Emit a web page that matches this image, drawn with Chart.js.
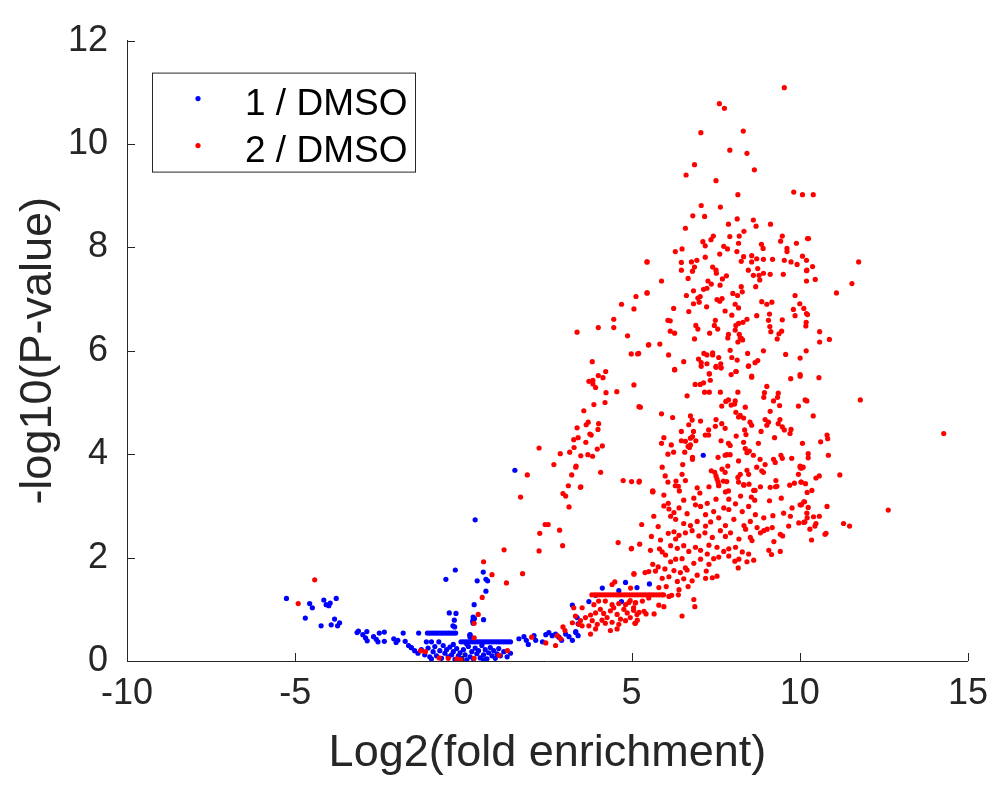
<!DOCTYPE html>
<html>
<head>
<meta charset="utf-8">
<title>Log2 fold enrichment volcano plot</title>
<script src="https://cdn.jsdelivr.net/npm/chart.js@4.4.1/dist/chart.umd.min.js"></script>
<style>
  html, body { margin: 0; padding: 0; background: #fff; }
  #wrap { width: 999px; height: 785px; position: relative; }
</style>
</head>
<body>
<div id="wrap"><canvas id="volcano"></canvas></div>
<script>
// tick labels
const xTicks = [-10, -5, 0, 5, 10, 15];
const yTicks = [0, 2, 4, 6, 8, 10, 12];
const seriesNames = ['1 / DMSO', '2 / DMSO'];

// --- 1 / DMSO (blue), points are [log2 fold enrichment, -log10 P] ---
const blueLeft = [
  [-5.26,1.21],[-4.57,1.11],[-4.49,1.03],[-4.15,1.18],[-4.08,1.09],[-3.96,1.12],[-4.0,1.07],[-3.78,1.21],
  [-4.70,0.83],[-4.23,0.68],[-3.93,0.70],[-3.83,0.81],[-3.68,0.74],[-3.74,0.68],[-3.12,0.58],[-3.16,0.55],
  [-2.99,0.51],[-2.87,0.57],[-2.91,0.45],[-2.86,0.39],[-2.67,0.47],[-2.59,0.42],[-2.50,0.54],[-2.35,0.56],
  [-2.54,0.37],[-2.35,0.38],[-2.07,0.43],[-2.0,0.36],[-1.95,0.40],[-1.79,0.54],[-1.73,0.38],[-1.63,0.30],
  [-1.55,0.26],[-1.33,0.54],[-1.10,0.37],[-0.95,0.37],[-0.73,0.37]
];
const blueStreaks = [
  [-1.07,0.54],[-1.0,0.54],[-0.93,0.54],[-0.86,0.54],[-0.79,0.54],[-0.72,0.54],[-0.65,0.54],[-0.58,0.54],
  [-0.51,0.54],[-0.44,0.54],[-0.37,0.54],[-0.30,0.54],[-0.23,0.54],
  [-0.07,0.37],[0.0,0.37],[0.07,0.37],[0.14,0.37],[0.21,0.37],[0.28,0.37],[0.35,0.37],[0.42,0.37],
  [0.49,0.37],[0.56,0.37],[0.63,0.37],[0.70,0.37],[0.77,0.37],[0.84,0.37],[0.91,0.37],[0.98,0.37],
  [1.05,0.37],[1.12,0.37],[1.19,0.37],[1.26,0.37],[1.33,0.37],[1.40,0.37]
];
const blueCore = [
  [-1.55,0.26],[-1.45,0.20],[-1.35,0.15],[-1.25,0.22],[-1.15,0.12],[-1.05,0.25],[-1.0,0.08],[-0.9,0.18],
  [-0.85,0.28],[-0.8,0.10],[-0.7,0.20],[-0.65,0.05],[-0.6,0.30],[-0.55,0.15],[-0.5,0.22],[-0.45,0.08],
  [-0.4,0.27],[-0.35,0.12],[-0.3,0.18],[-0.25,0.03],[-0.2,0.24],[-0.15,0.10],[-0.1,0.16],[-0.05,0.05],
  [0.0,0.22],[0.05,0.12],[0.1,0.02],[0.15,0.28],[0.2,0.08],[0.25,0.18],[0.3,0.04],[0.35,0.25],
  [0.4,0.14],[0.45,0.20],[0.5,0.06],[0.55,0.30],[0.6,0.12],[0.65,0.22],[0.7,0.04],[0.75,0.16],
  [0.8,0.26],[0.85,0.10],[0.9,0.20],[0.95,0.05],[1.0,0.14],[1.05,0.24],[1.1,0.10],[1.2,0.18],
  [1.3,0.08],[1.4,0.15],[-0.95,0.04],[-0.3,0.32],[0.1,0.33],[0.6,0.02],
  [-0.24,1.76],[-0.52,1.58],[0.41,1.55],[0.32,1.09],[-0.42,0.93],[-0.22,0.92],[-0.27,0.79],[-0.31,0.68],
  [-0.26,0.66],[0.33,0.82],[0.28,0.77],[0.20,0.51],[0.20,0.46],[1.53,3.69],[0.35,2.73],[0.59,1.72],
  [0.67,1.58],[0.72,1.55],[0.67,1.35],[0.29,0.85],[0.29,0.79],[0.60,0.80],[0.29,0.73],[0.19,0.50]
];
const blueRight = [
  [1.65,0.43],[1.80,0.47],[1.87,0.40],[1.93,0.32],[2.10,0.49],[2.15,0.40],[2.35,0.37],[2.45,0.51],
  [2.54,0.55],[2.64,0.49],[2.74,0.52],[2.84,0.46],[2.92,0.40],[3.04,0.52],[3.14,0.47],[3.24,0.40],
  [3.34,0.57],[3.41,0.49],[3.24,1.08],[3.38,0.84],[3.41,0.72],[3.34,0.55],[4.13,1.41],[3.93,1.27],
  [3.73,1.15],[4.62,1.36],[4.82,1.52],[5.16,1.42],[4.70,1.15],[5.53,1.49],[7.13,3.98]
];

// --- 2 / DMSO (red) ---
const redLow = [
  [-4.42,1.57],[-4.91,1.11],[-1.27,0.20],[-1.13,0.18],[-0.72,0.06],[-0.45,0.05],[-0.19,0.04],[-0.07,0.02],
  [0.32,0.05],[1.06,0.11],[1.31,0.20],[0.32,0.73],[0.44,0.90],[0.32,0.45],[0.56,1.23],[0.60,1.92],
  [0.85,1.67],[1.28,1.51],[1.76,1.69],[1.21,2.15],
  [2.03,0.46],[2.45,0.35],[2.74,0.30],[2.79,0.49],[2.89,0.43],[2.96,0.66],[3.02,0.59],[3.24,0.74],[3.43,0.71],
  [2.25,2.13],[2.95,2.23],[2.27,2.47],[2.43,2.64],[2.52,2.64],[2.86,2.53],[4.60,2.29],[4.99,2.17],
  [5.07,1.68],[4.50,1.53],[4.42,1.48],[1.90,3.60],[1.70,3.17],[2.69,3.80],[3.34,3.75],[3.22,3.60],
  [3.12,3.39],[2.96,3.24],[3.04,3.19],[3.14,2.98],[3.48,3.36],[4.08,3.65],[4.75,3.49],[5.00,3.47]
];
const redStreak = [
  [3.82,1.28],[3.90,1.28],[3.98,1.28],[4.06,1.28],[4.14,1.28],[4.22,1.28],[4.30,1.28],[4.38,1.28],
  [4.46,1.28],[4.54,1.28],[4.62,1.28],[4.70,1.28],[4.78,1.28],[4.86,1.28],[4.94,1.28],[5.02,1.28],
  [5.10,1.28],[5.18,1.28],[5.26,1.28],[5.34,1.28],[5.42,1.28],[5.50,1.28],[5.58,1.28],[5.66,1.28],
  [5.74,1.28],[5.82,1.28],[5.90,1.28],[5.95,1.28]
];
const redShoulder = [
  [3.28,1.03],[3.53,1.03],[3.33,0.87],[3.48,0.78],[3.63,0.84],[3.78,0.89],[3.93,0.93],[4.07,1.00],
  [4.17,0.92],[4.27,0.84],[4.37,0.97],[4.47,1.03],[4.57,0.90],[4.67,0.81],[4.77,1.00],[4.87,0.93],
  [4.96,0.84],[5.06,1.03],[5.16,0.90],[3.83,0.78],[3.98,0.71],[4.12,0.79],[4.22,0.73],[4.42,0.75],
  [4.62,0.71],[4.82,0.78],[3.73,0.68],[3.53,0.68],[3.88,1.09],[4.02,1.16],[4.22,1.16],[4.42,1.09],
  [4.62,1.11],[4.82,1.09],[4.96,1.17],[5.11,1.12],[3.93,0.62],[4.37,0.59],[4.57,0.62],[3.78,0.52],
  [5.11,0.73],[4.92,1.13],[5.12,1.13],[5.32,1.16],[5.51,1.22],[5.81,1.08],[5.96,1.05],[5.06,0.98],
  [5.22,0.94],[5.37,0.96],[5.43,0.91],[5.67,0.91],[5.10,0.73],[5.17,0.79],[6.11,1.25],[6.39,1.28],
  [6.85,1.19],[6.88,1.05],[6.50,0.87],[5.81,1.42],[6.03,1.44],[6.41,1.38],[6.19,1.27],[6.68,1.44],[4.97,1.41]
];
const redArm = [
  [5.07,6.81],[4.47,6.61],[4.01,6.45],[4.47,6.45],[3.38,6.36],[4.88,6.29],[5.50,6.11],[4.99,5.94],
  [5.18,5.94],[3.83,5.79],[4.23,5.60],[4.01,5.52],[4.15,5.48],[3.73,5.41],[3.85,5.43],[3.85,5.36],
  [3.93,5.29],[4.24,5.19],[4.56,5.21],[5.07,5.34],[4.21,5.00],[3.88,4.96],[5.22,4.92],[3.58,4.84],
  [3.71,4.62],[3.65,4.57],[4.02,4.59],[3.38,4.51],[4.00,4.48],[3.76,4.39],[3.80,4.37],[3.28,4.28],
  [3.41,4.32],[3.64,4.23],[2.25,4.12],[2.88,4.01],[3.16,4.04],[3.29,4.13],[3.98,4.10],[4.13,4.16],
  [3.49,3.97],[3.70,3.99],[3.84,3.96],[3.35,3.77],[3.49,3.37],[5.22,3.46],[5.63,3.27],
  [5.46,7.72],[5.46,7.12],[5.13,7.05],[4.70,6.90]
];
const redDense = [
  [5.63,3.28],[5.96,3.21],[6.39,3.38],[6.95,3.35],[7.03,3.25],[7.30,3.37],[7.59,3.40],[7.79,3.27],
  [8.34,3.40],[8.63,3.30],[8.83,3.37],[9.28,3.37],[9.70,3.40],[10.17,3.43],
  [6.09,3.05],[6.55,3.11],[6.85,3.15],[7.25,3.05],[7.51,3.13],[7.89,3.13],[8.24,3.19],[8.56,3.17],
  [8.66,3.11],[9.10,3.10],[9.45,3.15],[10.12,3.08],
  [5.96,3.00],[6.11,2.94],[6.26,2.87],[6.41,2.96],[6.65,2.85],[6.90,3.02],[7.05,2.99],[7.20,2.83],
  [7.44,2.89],[7.74,2.96],[7.89,2.93],[8.09,3.04],[8.29,2.89],[8.48,2.99],[8.68,2.83],[8.93,2.77],
  [9.20,2.81],[9.52,2.86],[9.77,2.96],[10.05,3.02],[9.72,2.80],[5.66,2.80],
  [5.30,2.64],[5.79,2.60],[6.16,2.80],[6.31,2.74],[6.55,2.66],[6.75,2.62],[6.95,2.70],[7.20,2.61],
  [7.35,2.69],[7.59,2.77],[7.79,2.62],[8.04,2.74],[8.34,2.62],[8.53,2.70],[8.73,2.58],[8.93,2.52],
  [9.18,2.58],[9.42,2.45],[9.67,2.61],[9.97,2.67],[10.15,2.69],
  [5.59,2.41],[5.86,2.34],[6.09,2.47],[6.26,2.50],[6.41,2.43],[6.60,2.48],[6.80,2.52],[7.00,2.42],
  [7.18,2.48],[7.40,2.39],[7.64,2.52],[7.79,2.41],[7.94,2.48],[8.19,2.36],[8.39,2.55],[8.53,2.39],
  [8.58,2.33],[8.83,2.48],[9.03,2.55],[9.23,2.31],[9.49,2.42],[6.31,2.36],
  [5.00,2.18],[5.24,2.26],[5.56,2.14],[5.83,2.17],[5.91,2.11],[6.16,2.23],[6.36,2.18],[6.55,2.23],
  [6.70,2.12],[6.90,2.20],[7.05,2.14],[7.30,2.24],[7.54,2.20],[7.74,2.12],[7.89,2.17],[8.09,2.20],
  [8.29,2.11],[8.48,2.07],[9.08,2.14],[9.16,2.06],[9.42,2.12],[7.25,2.07],[6.01,2.05],
  [5.63,1.87],[5.79,1.82],[5.99,1.78],[6.16,1.92],[6.31,1.97],[6.50,1.98],[6.60,1.80],[6.85,1.89],
  [7.05,1.97],[7.30,1.87],[7.44,1.98],[7.59,2.01],[7.89,2.03],[8.07,1.93],[8.19,1.97],[8.43,1.92],
  [8.63,1.95],[8.17,1.80],
  [5.07,1.69],[5.40,1.71],[5.51,1.73],[5.71,1.74],[5.91,1.60],[6.11,1.63],[6.26,1.75],[6.45,1.71],
  [6.65,1.76],[6.95,1.66],[7.22,1.74],[7.20,1.60],[7.40,1.61],[7.54,1.64],[6.36,1.54],[6.55,1.59],[6.80,1.55]
];
const redBand = [
  [6.28,5.63],[7.31,5.56],[7.51,5.68],[7.66,5.67],[7.96,5.54],[8.11,5.60],[8.47,5.70],
  [7.34,5.43],[7.04,5.35],[6.89,5.35],[7.14,5.38],[7.17,5.20],[7.31,5.20],[7.64,5.20],[8.16,5.20],
  [8.57,5.49],[9.02,5.31],[8.95,5.19],[8.93,5.10],[9.36,5.18],[9.34,5.10],[9.22,5.03],[9.73,5.46],
  [10.01,5.51],[6.65,5.13],[5.26,4.91],[7.80,5.02],[7.88,5.05],[7.96,4.95],[8.08,5.03],[7.68,4.93],
  [8.06,4.97],[8.38,4.91],[8.10,4.81],[8.23,4.75],[8.18,4.72],[8.33,4.70],[9.12,4.83],[9.40,4.94],
  [9.96,4.93],[10.16,5.05],[5.89,4.78],[6.22,4.71],[6.75,4.74],[6.80,4.66],[6.70,4.57],[7.05,4.64],
  [7.51,4.67],[7.68,4.59],[7.78,4.50],[7.49,4.54],[7.29,4.47],[7.29,4.37],[7.19,4.37],
  [8.52,4.62],[8.57,4.56],[8.36,4.47],[8.40,4.38],[8.85,4.44],[8.97,4.67],[9.07,4.62],[9.02,4.56],
  [9.41,4.67],[9.36,4.59],[9.48,4.53],[9.54,4.47],[9.74,4.48],[9.71,4.40],[9.25,4.32],[10.08,4.21],
  [5.96,4.32],[5.89,4.21],[6.18,4.18],[6.48,4.44],[6.48,4.26],[6.60,4.25],[6.68,4.15],[6.75,4.18],
  [6.81,4.34],[6.75,4.31],[6.84,4.44],[6.72,4.13],[6.91,4.26],
  [7.66,4.26],[7.88,4.21],[7.93,4.17],[8.11,4.35],[8.33,4.23],[8.38,4.11],[8.43,4.03],[8.50,4.06],
  [8.62,3.98],[8.77,4.21],[8.18,3.87],[7.83,3.99],[7.78,3.98],[7.93,3.99],
  [6.08,4.00],[6.25,4.04],[6.58,4.04],[6.81,3.94],[6.81,3.90],[6.52,3.80],[5.91,3.75],[6.00,3.58],
  [7.57,3.94],[7.37,3.68],[7.47,3.65],[7.51,3.58],[7.54,3.52],[7.57,3.46],[7.69,3.71],[7.78,3.65],[7.59,3.39],
  [7.86,3.77],[8.16,3.55],[8.23,3.61],[8.43,3.69],[8.48,3.61],[8.72,3.75],[8.87,3.68],[8.92,3.65],
  [8.97,3.80],[8.82,3.90],[9.22,3.90],[9.27,3.84],[9.44,3.98],[9.48,3.92],[9.76,3.92],[10.01,3.77],
  [10.06,3.74],[9.96,3.61],[9.29,3.49],[10.04,3.46],[9.84,3.44],[9.12,3.36],[9.32,3.38],
  [6.08,3.46],[6.32,3.48],[6.60,3.49],[6.50,3.61],[5.23,3.48],[5.63,3.29],[6.30,3.39],[6.42,3.29],
  [7.73,3.48],[7.83,3.47],[8.18,3.46],[8.33,3.41],[8.49,3.42],[8.67,3.30],[7.88,3.29]
];
const redRight = [
  [10.57,5.48],[10.21,5.03],[11.80,5.05],[10.40,4.74],[14.28,4.40],[10.81,4.37],[10.83,4.30],[10.62,4.24],
  [10.25,4.01],[10.25,3.93],[10.85,3.98],[10.01,3.75],[10.10,3.75],[10.04,3.73],[11.19,3.60],[10.58,3.58],
  [10.48,3.54],[10.04,3.46],[10.22,3.26],[10.36,3.30],[10.01,3.02],[10.14,3.08],[10.25,2.97],[10.81,2.99],
  [10.21,2.86],[10.22,2.77],[10.41,2.79],[10.58,2.80],[12.63,2.92],[10.12,2.68],[10.48,2.66],[10.45,2.61],
  [10.30,2.55],[11.30,2.66],[11.48,2.61],[10.75,2.45],[10.78,2.47],[10.35,2.34]
];
const redHigh = [
  [6.82,8.61],[7.17,8.60],[8.14,8.55],[7.88,8.45],[8.62,8.53],[8.70,8.41],[9.13,8.45],[6.60,8.37],
  [8.34,8.31],[8.20,8.22],[7.92,8.21],[7.43,8.22],[7.36,8.15],[7.12,8.11],[7.19,8.03],[9.48,8.22],
  [9.43,8.12],[9.90,8.08],[10.23,8.17],[8.18,8.08],[7.74,8.02],[7.85,7.97],[8.13,7.92],[7.62,7.87],
  [6.50,7.97],[6.30,7.92],[8.86,8.06],[8.91,7.98],[9.62,7.98],[9.62,7.92],[10.08,7.83],
  [8.33,7.82],[8.57,7.84],[8.72,7.78],[8.92,7.77],[9.19,7.77],[9.54,7.75],[9.74,7.72],[9.92,7.67],[10.20,7.75],
  [5.46,7.72],[6.48,7.71],[6.78,7.72],[6.94,7.75],[7.19,7.81],[6.87,7.62],[6.81,7.54],[6.48,7.56],
  [7.41,7.62],[7.51,7.56],[7.52,7.50],[7.82,7.45],[7.70,7.39],
  [8.26,7.73],[8.57,7.72],[8.47,7.56],[8.75,7.59],[8.62,7.46],[8.79,7.46],[8.81,7.37],[8.92,7.50],
  [9.12,7.48],[9.51,7.48],[10.20,7.55],[10.20,7.35],[6.68,7.40],[5.89,7.35],
  [7.27,7.35],[7.37,7.29],[7.24,7.21],[7.14,7.19],[7.63,7.27],[6.84,7.16],[7.04,7.05],[6.97,7.02],
  [7.01,6.94],[6.63,7.07],[6.84,6.91],[5.46,7.12],[7.54,6.99],[7.69,7.01],[7.62,6.96],[8.01,7.11],
  [8.15,7.07],[8.26,7.24],[8.29,7.14],[8.69,7.24],[7.23,6.85],[6.25,6.82],[6.70,6.76],[8.08,6.90],[8.18,6.83],
  [8.87,6.95],[9.02,6.90],[9.17,6.94],[9.86,7.07],[10.00,6.91],[9.81,6.80],[9.86,6.68],[10.12,6.82],[10.20,6.72],
  [7.78,6.77],[7.98,6.69],[7.49,6.59],[7.46,6.49],[7.56,6.42],[8.18,6.53],[8.10,6.49],[8.43,6.61],[8.31,6.55],
  [6.08,6.59],[6.15,6.58],[6.15,6.38],[6.28,6.34],[6.91,6.49],[6.97,6.42],[7.32,6.34],
  [7.88,6.32],[7.86,6.25],[8.08,6.40],[8.20,6.32],[8.23,6.25],[8.26,6.24],[8.16,6.17],[8.30,6.21],[6.87,6.23],
  [8.72,6.68],[9.10,6.71],[9.07,6.59],[9.11,6.47],[9.14,6.37],[9.48,6.60],[9.46,6.38],[9.38,6.33],[9.33,6.23],
  [8.92,6.00],[8.45,5.95],[8.75,5.81],[8.67,5.77],[8.48,5.71],[8.14,5.82],[7.98,5.87],[7.93,6.01],
  [7.59,5.87],[7.65,5.75],[7.51,5.70],[7.41,5.96],[7.41,5.92],[7.15,5.95],[7.24,5.92],[7.24,5.75],
  [6.99,5.84],[7.07,5.77],[7.07,5.70],[6.55,5.79],[6.28,5.64],[5.51,6.12],[5.84,6.13],[6.10,5.92],[5.21,5.95],
  [9.58,5.93],[10.01,5.86],[10.19,6.00],[10.01,5.54],[7.31,5.55],[7.66,5.67],[8.10,5.60],[8.57,5.51]
];
const redTop = [
  [10.08,9.02],[10.40,9.02],[10.26,8.17],[11.75,7.72],[10.21,7.56],[10.38,7.63],[10.46,7.38],[11.55,7.30],
  [11.09,7.12],[10.23,6.70],[10.19,6.55],[10.18,6.48],[10.59,6.37],[10.88,6.22],[10.59,6.17],
  [9.54,11.09],[7.61,10.78],[7.76,10.69],[7.06,10.22],[8.32,10.25],[7.92,9.88],[8.43,9.82],
  [6.87,9.60],[6.62,9.40],[7.51,9.29],[8.65,9.50],[8.16,9.02],[9.82,9.07],[7.07,8.81],[7.64,8.78]
];

const toXY = p => ({ x: p[0], y: p[1] });
const blueData = [...blueLeft, ...blueStreaks, ...blueCore, ...blueRight].map(toXY);
const redData = [...redLow, ...redStreak, ...redShoulder, ...redArm, ...redDense,
                 ...redBand, ...redRight, ...redHigh, ...redTop].map(toXY);

const fontFamily = '"Liberation Sans", Arial, Helvetica, sans-serif';
const axisColor = '#262626';

// MATLAB style tick marks pointing into the axes
const innerTicks = {
  id: 'innerTicks',
  afterDatasetsDraw(chart) {
    const { ctx, chartArea: a, scales: { x, y } } = chart;
    ctx.save();
    ctx.strokeStyle = axisColor;
    ctx.lineWidth = 1;
    ctx.beginPath();
    xTicks.forEach(v => {
      const px = Math.round(x.getPixelForValue(v)) + 0.5;
      ctx.moveTo(px, a.bottom);
      ctx.lineTo(px, a.bottom - 8);
    });
    yTicks.forEach(v => {
      const py = Math.round(y.getPixelForValue(v)) + 0.5;
      ctx.moveTo(a.left, py);
      ctx.lineTo(a.left + 8, py);
    });
    ctx.stroke();
    ctx.restore();
  }
};

// boxed legend inside the axes, top left
const boxLegend = {
  id: 'boxLegend',
  afterDraw(chart) {
    const { ctx, chartArea: a } = chart;
    const left = a.left + 25, top = a.top + 32, w = 263, h = 99;
    ctx.save();
    ctx.fillStyle = '#fff';
    ctx.fillRect(left, top, w, h);
    ctx.strokeStyle = axisColor;
    ctx.lineWidth = 1;
    ctx.strokeRect(left + 0.5, top + 0.5, w, h);
    ctx.font = '37px ' + fontFamily;
    ctx.textBaseline = 'alphabetic';
    ctx.textAlign = 'left';
    chart.data.datasets.forEach((ds, i) => {
      const rowY = top + 26 + i * 47;
      ctx.fillStyle = ds.backgroundColor;
      ctx.beginPath();
      ctx.arc(left + 46, rowY, 2.6, 0, Math.PI * 2);
      ctx.fill();
      ctx.fillStyle = '#000';
      ctx.fillText(ds.label, left + 93, rowY + 16);
    });
    ctx.restore();
  }
};

new Chart(document.getElementById('volcano'), {
  type: 'scatter',
  data: {
    datasets: [
      { label: seriesNames[0], data: blueData, backgroundColor: '#0000FF', order: 2 },
      { label: seriesNames[1], data: redData, backgroundColor: '#FF0000', order: 1 }
    ]
  },
  options: {
    responsive: true,
    maintainAspectRatio: false,
    animation: false,
    layout: { padding: { left: 10, right: 29, top: 27, bottom: 0 } },
    elements: { point: { radius: 2.6, borderWidth: 0, hoverRadius: 3 } },
    plugins: {
      legend: { display: false },
      tooltip: { enabled: false }
    },
    scales: {
      x: {
        type: 'linear',
        min: -10,
        max: 15,
        afterBuildTicks: s => { s.ticks = xTicks.map(v => ({ value: v })); },
        afterFit: s => { s.height = 124; },
        grid: { display: false, drawTicks: false },
        border: { display: true, color: axisColor, width: 1 },
        ticks: { color: axisColor, padding: 11, font: { family: fontFamily, size: 36 } },
        title: {
          display: true,
          text: 'Log2(fold enrichment)',
          color: axisColor,
          padding: { top: 0, bottom: 4 },
          font: { family: fontFamily, size: 45 }
        }
      },
      y: {
        type: 'linear',
        min: 0,
        max: 12,
        afterBuildTicks: s => { s.ticks = yTicks.map(v => ({ value: v })); },
        afterFit: s => { s.width = 117; },
        grid: { display: false, drawTicks: false },
        border: { display: true, color: axisColor, width: 1 },
        ticks: { color: axisColor, padding: 19, font: { family: fontFamily, size: 36 } },
        title: {
          display: true,
          text: '-log10(P-value)',
          color: axisColor,
          padding: { top: 2, bottom: 0 },
          font: { family: fontFamily, size: 45 }
        }
      }
    }
  },
  plugins: [innerTicks, boxLegend]
});
</script>
</body>
</html>
